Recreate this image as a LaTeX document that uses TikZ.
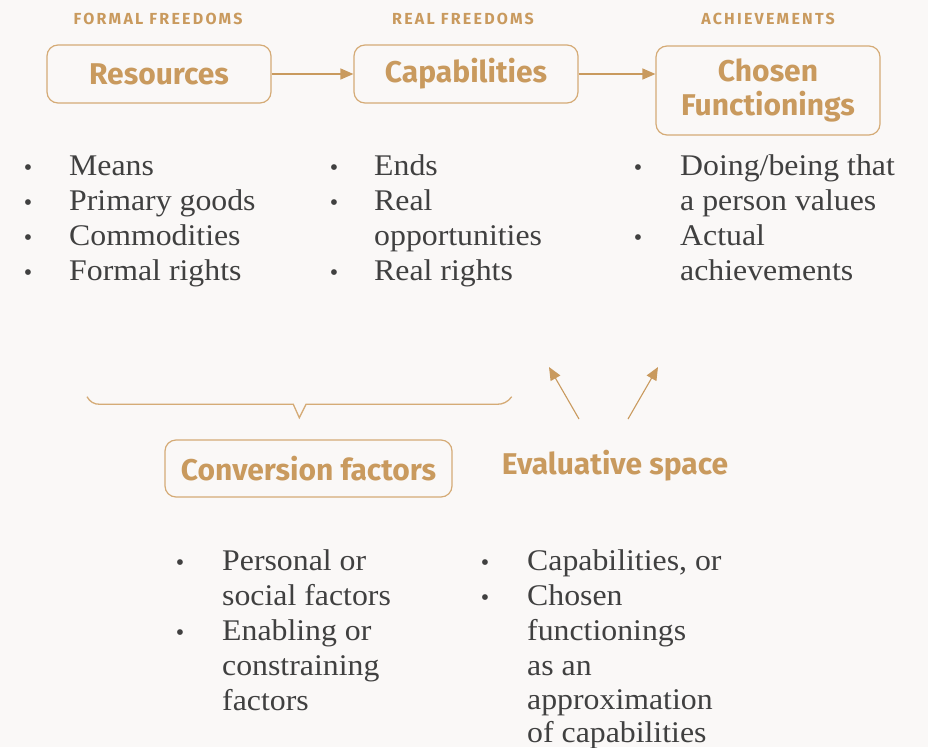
\documentclass[tikz,border=0pt]{standalone}
\usepackage{fontspec}
\setmainfont{Liberation Serif}
\newfontfamily\hfont{Fira Sans}
\newfontfamily\bodyfont[FakeStretch=1.06]{Liberation Serif}
\usetikzlibrary{arrows.meta}
\definecolor{gold}{HTML}{C99A5E}
\definecolor{goldline}{HTML}{D5AB76}
\definecolor{bg}{HTML}{FAF8F7}
\definecolor{ink}{HTML}{404040}
\tikzset{
  hdr/.style={font=\hfont\bfseries\fontsize{16}{19}\selectfont\addfontfeature{LetterSpace=14}, text=gold, inner sep=0pt},
  boxnode/.style={draw=goldline, line width=1.2pt, rounded corners=11pt, font=\hfont\bfseries\fontsize{30}{34}\selectfont, text=gold, align=center, inner sep=0pt},
  title/.style={font=\hfont\bfseries\fontsize{30}{34}\selectfont, text=gold, inner sep=0pt},
  item/.style={anchor=base west, font=\bodyfont\fontsize{30}{35}\selectfont, text=ink, inner sep=0pt},
  bul/.style={anchor=base, font=\fontsize{24}{35}\selectfont, text=ink, inner sep=0pt},
  arr/.style={draw=gold, line width=1.3pt, -{Triangle[length=13pt,width=11pt]}},
}
\begin{document}
\begin{tikzpicture}[x=1pt,y=-1pt]
\fill[bg] (0,0) rectangle (928,747);
\useasboundingbox (0,0) rectangle (928,747);

% headers
\node[hdr] (h1) at (158,19) {FORMAL FREEDOMS};
\node[hdr] (h2) at (463,19) {REAL FREEDOMS};
\node[hdr] (h3) at (768,19) {ACHIEVEMENTS};

% boxes
\node[boxnode, minimum width=224pt, minimum height=58pt] (res) at (159,74) {Resources};
\node[boxnode, minimum width=224pt, minimum height=58pt] (cap) at (466,74) {Capabilities};
\node[boxnode, minimum width=224pt, minimum height=89pt] (cho) at (768,90.5) {Chosen\\Functionings};
\draw[arr] (res.east) -- (cap.west);
\draw[arr] (cap.east) -- (cho.west |- cap.east);

% list 1
\foreach \t [count=\i] in {Means,Primary goods,Commodities,Formal rights}{
  \node[item] (la\i) at (69,{175.5+35*(\i-1)}) {\t};
  \node[bul] (ba\i) at (28,{175.5+35*(\i-1)}) {•};
}
% list 2
\node[item] (lb1) at (374,175.5) {Ends};
\node[item] (lb2) at (374,210.5) {Real};
\node[item] (lb3) at (374,245.5) {opportunities};
\node[item] (lb4) at (374,280.5) {Real rights};
\node[bul] (bb1) at (334,175.5) {•};
\node[bul] (bb2) at (334,210.5) {•};
\node[bul] (bb3) at (334,280.5) {•};
% list 3
\node[item] (lc1) at (680,175.5) {Doing/being that};
\node[item] (lc2) at (680,210.5) {a person values};
\node[item] (lc3) at (680,245.5) {Actual};
\node[item] (lc4) at (680,280.5) {achievements};
\node[bul] (bc1) at (638,175.5) {•};
\node[bul] (bc2) at (638,245.5) {•};

% brace
\draw[draw=goldline, line width=1.3pt]
  (87,396.7) .. controls (90,402) and (94,404.3) .. (100,404.3)
  -- (293.3,404.3) -- (299.3,417.7) -- (306,404.3) -- (496.7,404.3)
  .. controls (503,404.3) and (508,402) .. (511.7,396.7);

% conversion factors
\node[boxnode, minimum width=287pt, minimum height=57pt] (conv) at (308.5,468.5) {Conversion factors};
\node[title] (eval) at (615,466) {Evaluative space};
\coordinate (e1s) at (579,419);
\coordinate (e1t) at (549,367);
\coordinate (e2s) at (628,419);
\coordinate (e2t) at (658,367);
\draw[arr, line width=1.1pt] (e1s) -- (e1t);
\draw[arr, line width=1.1pt] (e2s) -- (e2t);

% lower lists
\node[item] (ld1) at (222,570) {Personal or};
\node[item] (ld2) at (222,605) {social factors};
\node[item] (ld3) at (222,640) {Enabling or};
\node[item] (ld4) at (222,675) {constraining};
\node[item] (ld5) at (222,710) {factors};
\node[bul] (bd1) at (180,570) {•};
\node[bul] (bd2) at (180,640) {•};

\node[item] (le1) at (527,570) {Capabilities, or};
\node[item] (le2) at (527,605) {Chosen};
\node[item] (le3) at (527,640) {functionings};
\node[item] (le4) at (527,675) {as an};
\node[item] (le5) at (527,709) {approximation};
\node[item] (le6) at (527,742) {of capabilities};
\node[bul] (be1) at (485,570) {•};
\node[bul] (be2) at (485,605) {•};
\end{tikzpicture}
\end{document}
